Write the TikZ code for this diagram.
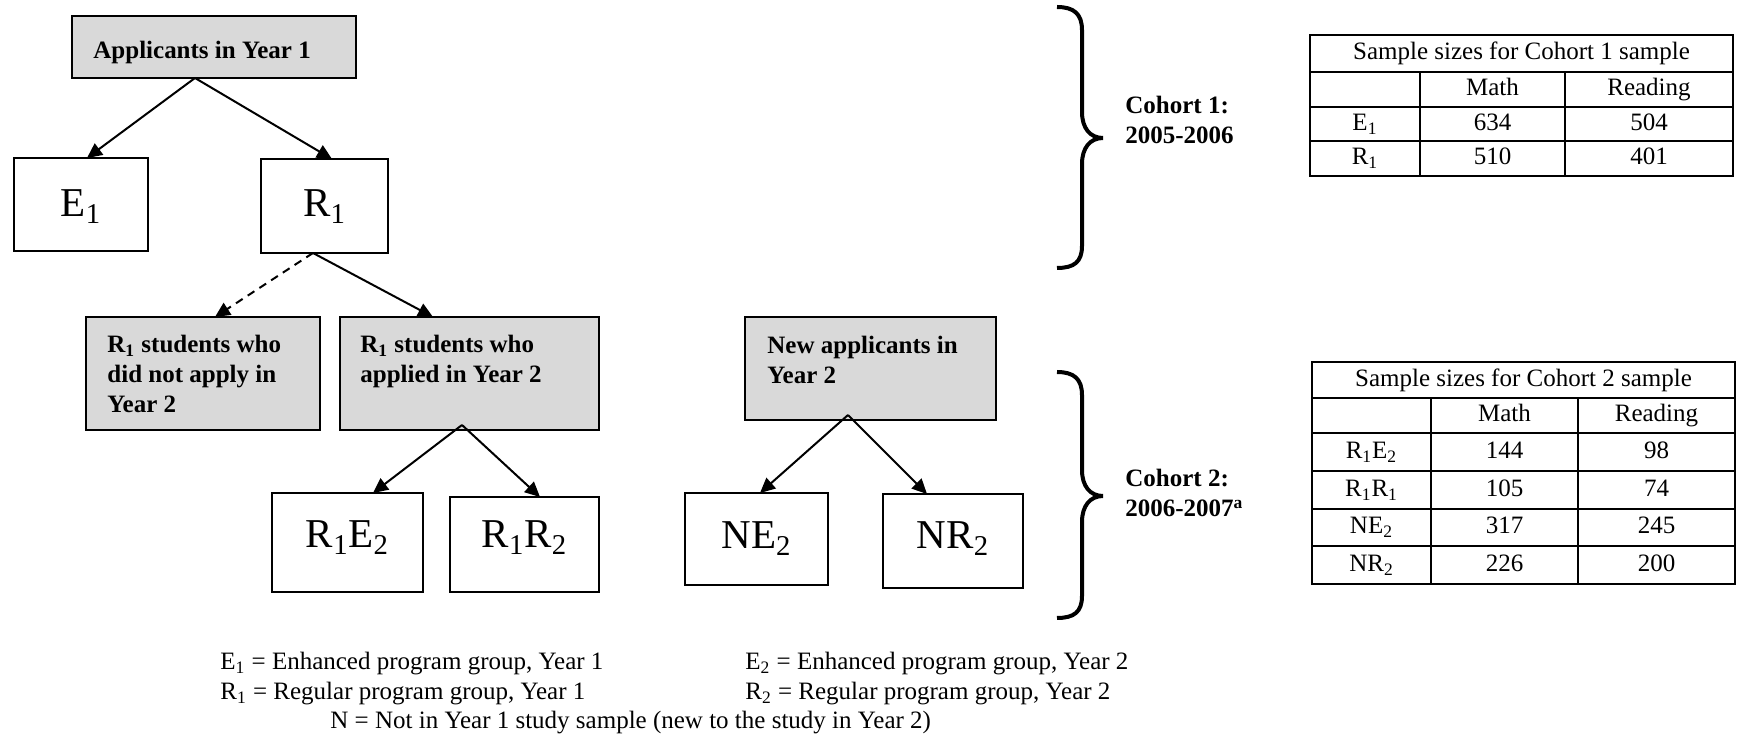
\documentclass[tikz,border=0pt]{standalone}
\usepackage{fontspec}
\setmainfont{Liberation Serif}
\usetikzlibrary{arrows.meta,calc}
\definecolor{boxgray}{HTML}{D9D9D9}
\newcommand{\sbs}[1]{\textsubscript{#1}}
\newcommand{\stack}[1]{\begin{tabular}[t]{@{}l@{}}#1\end{tabular}}
\begin{document}
\begin{tikzpicture}[x=0.5pt,y=-0.5pt,
 box/.style={draw, line width=0.9pt, inner sep=0pt, outer sep=0pt, anchor=north west},
 gbox/.style={box, fill=boxgray},
 conn/.style={line width=1pt, -{Triangle[length=7.5pt,width=7pt]}},
 dconn/.style={conn, dash pattern=on 4pt off 3pt},
 txt/.style={inner sep=0pt, font=\fontsize{12.5}{15}\selectfont},
 btxt/.style={inner sep=0pt, font=\fontsize{12.5}{15}\selectfont\bfseries},
 big/.style={inner sep=0pt, anchor=base, font=\fontsize{20.5}{24}\selectfont},
 cell/.style={txt, anchor=base},
 brace/.style={line width=2pt},
 tbl/.style={line width=0.6pt},
]
\useasboundingbox (0,0) rectangle (1737,737);

% boxes
\node[gbox, minimum width=142pt, minimum height=31pt] (app) at (72,16) {};
\node[box, minimum width=67pt, minimum height=46.5pt] (e1) at (14,158) {};
\node[box, minimum width=63.5pt, minimum height=47pt] (r1) at (261,159) {};
\node[gbox, minimum width=117pt, minimum height=56.5pt] (noapp) at (86,317) {};
\node[gbox, minimum width=129.5pt, minimum height=56.5pt] (appl) at (340,317) {};
\node[gbox, minimum width=125.5pt, minimum height=51.5pt] (newap) at (745,317) {};
\node[box, minimum width=75.5pt, minimum height=49.5pt] (r1e2) at (272,493) {};
\node[box, minimum width=74.5pt, minimum height=47.5pt] (r1r2) at (450,497) {};
\node[box, minimum width=71.5pt, minimum height=46pt] (ne2) at (685,493) {};
\node[box, minimum width=70pt, minimum height=47pt] (nr2) at (883,494) {};

% box texts
\node[btxt, anchor=base west] (appT) at (93,59) {Applicants in Year 1};
\node[big] (e1T) at (e1.center |- 0,217) {E\sbs{1}};
\node[big] (r1T) at (r1.center |- 0,217) {R\sbs{1}};
\node[btxt, anchor=base west] (noappT) at (107,353) {\stack{R\sbs{1} students who\\did not apply in\\Year 2}};
\node[btxt, anchor=base west] (applT) at (360,353) {\stack{R\sbs{1} students who\\applied in Year 2}};
\node[btxt, anchor=base west] (newapT) at (767,354) {\stack{New applicants in\\Year 2}};
\node[big] (r1e2T) at (r1e2.center |- 0,548) {R\sbs{1}E\sbs{2}};
\node[big] (r1r2T) at (r1r2.center |- 0,548) {R\sbs{1}R\sbs{2}};
\node[big] (ne2T) at (ne2.center |- 0,549) {NE\sbs{2}};
\node[big] (nr2T) at (nr2.center |- 0,549) {NR\sbs{2}};

% connectors
\draw[conn] ($(app.south)+(-19,0)$) -- ($(e1.north)+(6,0)$);
\draw[conn] ($(app.south)+(-19,0)$) -- ($(r1.north)+(7.5,0)$);
\draw[dconn] ($(r1.south)+(-11.5,0)$) -- ($(noapp.north)+(12,0)$);
\draw[conn] ($(r1.south)+(-11.5,0)$) -- ($(appl.north)+(-36.5,0)$);
\draw[conn] ($(appl.south)+(-7.5,-5)$) -- ($(r1e2.north)+(25.5,0)$);
\draw[conn] ($(appl.south)+(-7.5,-5)$) -- ($(r1r2.north)+(15.5,0)$);
\draw[conn] ($(newap.south)+(-22.5,-5)$) -- ($(ne2.north)+(3.5,0)$);
\draw[conn] ($(newap.south)+(-22.5,-5)$) -- ($(nr2.north)+(-26,0)$);

% braces
\draw[brace] (1057,7) .. controls (1074,7) and (1082,14) .. (1082,30) -- (1082,112)
  .. controls (1082,128) and (1090,138) .. (1103,138)
  .. controls (1090,138) and (1082,148) .. (1082,164) -- (1082,246)
  .. controls (1082,262) and (1074,268) .. (1057,268);
\draw[brace] (1057,372) .. controls (1074,372) and (1082,379) .. (1082,395) -- (1082,470)
  .. controls (1082,486) and (1090,496) .. (1103,496)
  .. controls (1090,496) and (1082,506) .. (1082,522) -- (1082,596)
  .. controls (1082,612) and (1074,618) .. (1057,618);
\node[btxt, anchor=base west] (c1T) at (1125,114) {\stack{Cohort 1:\\2005-2006}};
\node[btxt, anchor=base west] (c2T) at (1125,487) {\stack{Cohort 2:\\2006-2007\textsuperscript{a}}};

% table 1
\draw[tbl] (1310,35) rectangle (1733,176);
\draw[tbl] (1310,72) -- (1733,72) (1310,107) -- (1733,107) (1310,141) -- (1733,141);
\draw[tbl] (1420,72) -- (1420,176) (1565,72) -- (1565,176);
\node[cell] (t1h) at (1521.5,60) {Sample sizes for Cohort 1 sample};
\node[cell] (t1m) at (1492.5,96) {Math};
\node[cell] (t1r) at (1649,96) {Reading};
\node[cell] (t1e) at (1365,130.5) {E\sbs{1}};
\node[cell] (t1em) at (1492.5,130.5) {634};
\node[cell] (t1er) at (1649,130.5) {504};
\node[cell] (t1q) at (1365,165) {R\sbs{1}};
\node[cell] (t1qm) at (1492.5,165) {510};
\node[cell] (t1qr) at (1649,165) {401};

% table 2
\draw[tbl] (1312,362) rectangle (1735,584);
\draw[tbl] (1312,398) -- (1735,398) (1312,433) -- (1735,433) (1312,471) -- (1735,471)
  (1312,509) -- (1735,509) (1312,546) -- (1735,546);
\draw[tbl] (1431,398) -- (1431,584) (1578,398) -- (1578,584);
\node[cell] (t2h) at (1523.5,386.5) {Sample sizes for Cohort 2 sample};
\node[cell] (t2m) at (1504.5,422) {Math};
\node[cell] (t2r) at (1656.5,422) {Reading};
\node[cell] (t2a) at (1371.5,458.5) {R\sbs{1}E\sbs{2}};
\node[cell] (t2am) at (1504.5,458.5) {144};
\node[cell] (t2ar) at (1656.5,458.5) {98};
\node[cell] (t2b) at (1371.5,496.5) {R\sbs{1}R\sbs{1}};
\node[cell] (t2bm) at (1504.5,496.5) {105};
\node[cell] (t2br) at (1656.5,496.5) {74};
\node[cell] (t2c) at (1371.5,534) {NE\sbs{2}};
\node[cell] (t2cm) at (1504.5,534) {317};
\node[cell] (t2cr) at (1656.5,534) {245};
\node[cell] (t2d) at (1371.5,571.5) {NR\sbs{2}};
\node[cell] (t2dm) at (1504.5,571.5) {226};
\node[cell] (t2dr) at (1656.5,571.5) {200};

% footer
\node[txt, anchor=base west] (f1) at (220,670) {E\sbs{1} = Enhanced program group, Year 1};
\node[txt, anchor=base west] (f2) at (745,670) {E\sbs{2} = Enhanced program group, Year 2};
\node[txt, anchor=base west] (f3) at (220,700) {R\sbs{1} = Regular program group, Year 1};
\node[txt, anchor=base west] (f4) at (745,700) {R\sbs{2} = Regular program group, Year 2};
\node[txt, anchor=base west] (f5) at (330,729) {N = Not in Year 1 study sample (new to the study in Year 2)};
\end{tikzpicture}
\end{document}
